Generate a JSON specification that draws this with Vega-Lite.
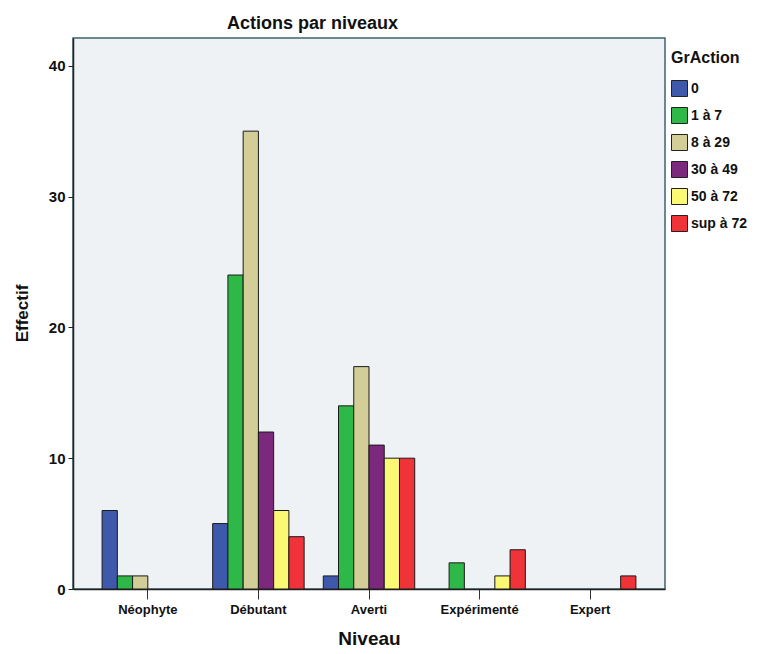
{
  "$schema": "https://vega.github.io/schema/vega-lite/v6.json",
  "autosize": "none",
  "padding": {"left": 73, "top": 38, "right": 96, "bottom": 65},
  "width": 592,
  "height": 551,
  "background": "white",
  "config": {
    "font": "Liberation Sans",
    "view": {"fill": "#eff2f4", "stroke": "#3d6470", "strokeWidth": 1.5}
  },
  "title": {
    "text": "Actions par niveaux",
    "anchor": "start",
    "frame": "group",
    "dx": 154,
    "dy": 19,
    "offset": 10,
    "baseline": "alphabetic",
    "fontSize": 18,
    "fontWeight": "bold",
    "color": "#111"
  },
  "data": {
    "values": [
      {"Niveau": "Néophyte", "GrAction": "0", "Effectif": 6},
      {"Niveau": "Néophyte", "GrAction": "1 à 7", "Effectif": 1},
      {"Niveau": "Néophyte", "GrAction": "8 à 29", "Effectif": 1},
      {"Niveau": "Débutant", "GrAction": "0", "Effectif": 5},
      {"Niveau": "Débutant", "GrAction": "1 à 7", "Effectif": 24},
      {"Niveau": "Débutant", "GrAction": "8 à 29", "Effectif": 35},
      {"Niveau": "Débutant", "GrAction": "30 à 49", "Effectif": 12},
      {"Niveau": "Débutant", "GrAction": "50 à 72", "Effectif": 6},
      {"Niveau": "Débutant", "GrAction": "sup à 72", "Effectif": 4},
      {"Niveau": "Averti", "GrAction": "0", "Effectif": 1},
      {"Niveau": "Averti", "GrAction": "1 à 7", "Effectif": 14},
      {"Niveau": "Averti", "GrAction": "8 à 29", "Effectif": 17},
      {"Niveau": "Averti", "GrAction": "30 à 49", "Effectif": 11},
      {"Niveau": "Averti", "GrAction": "50 à 72", "Effectif": 10},
      {"Niveau": "Averti", "GrAction": "sup à 72", "Effectif": 10},
      {"Niveau": "Expérimenté", "GrAction": "1 à 7", "Effectif": 2},
      {"Niveau": "Expérimenté", "GrAction": "50 à 72", "Effectif": 1},
      {"Niveau": "Expérimenté", "GrAction": "sup à 72", "Effectif": 3},
      {"Niveau": "Expert", "GrAction": "sup à 72", "Effectif": 1}
    ]
  },
  "mark": {"type": "bar", "stroke": "#1a1a1a", "strokeWidth": 1},
  "encoding": {
    "x": {
      "field": "Niveau",
      "type": "nominal",
      "scale": {"domain": ["Néophyte", "Débutant", "Averti", "Expérimenté", "Expert"], "paddingInner": 0.173, "paddingOuter": 0.263},
      "axis": {
        "title": "Niveau",
        "titleFontSize": 19,
        "titleFontWeight": "bold",
        "titleColor": "#111",
        "titlePadding": 13,
        "labelAngle": 0,
        "labelFontSize": 13,
        "labelFontWeight": "bold",
        "labelColor": "#111",
        "labelPadding": 4,
        "tickSize": 10,
        "tickColor": "#333",
        "domainColor": "#222",
        "domainWidth": 1.5
      }
    },
    "xOffset": {
      "field": "GrAction",
      "type": "nominal",
      "scale": {"domain": ["0", "1 à 7", "8 à 29", "30 à 49", "50 à 72", "sup à 72"], "paddingInner": 0, "paddingOuter": 0}
    },
    "y": {
      "field": "Effectif",
      "type": "quantitative",
      "scale": {"domain": [0, 42.12], "nice": false},
      "axis": {
        "title": "Effectif",
        "values": [0, 10, 20, 30, 40],
        "grid": false,
        "titleFontSize": 17,
        "titleFontWeight": "bold",
        "titleColor": "#111",
        "titleAngle": -90,
        "titleX": -51,
        "titleY": 275,
        "titleAlign": "center",
        "titleBaseline": "middle",
        "labelFontSize": 15,
        "labelFontWeight": "bold",
        "labelColor": "#111",
        "labelPadding": 3,
        "tickSize": 5,
        "tickColor": "#222",
        "domainColor": "#222",
        "domainWidth": 1.5
      }
    },
    "color": {
      "field": "GrAction",
      "type": "nominal",
      "scale": {
        "domain": ["0", "1 à 7", "8 à 29", "30 à 49", "50 à 72", "sup à 72"],
        "range": ["#3e58ac", "#2eb848", "#d3ce97", "#7c287d", "#fbf873", "#ef3338"]
      },
      "legend": {
        "orient": "none",
        "legendX": 598,
        "legendY": 12,
        "padding": 0,
        "title": "GrAction",
        "titleFontSize": 16,
        "titleFontWeight": "bold",
        "titleColor": "#111",
        "titlePadding": 14,
        "titleLimit": 200,
        "labelFontSize": 14,
        "labelFontWeight": "bold",
        "labelColor": "#111",
        "labelOffset": 3,
        "symbolType": "square",
        "symbolSize": 256,
        "symbolStrokeColor": "#222",
        "symbolStrokeWidth": 1,
        "symbolOpacity": 1,
        "rowPadding": 6
      }
    }
  }
}
